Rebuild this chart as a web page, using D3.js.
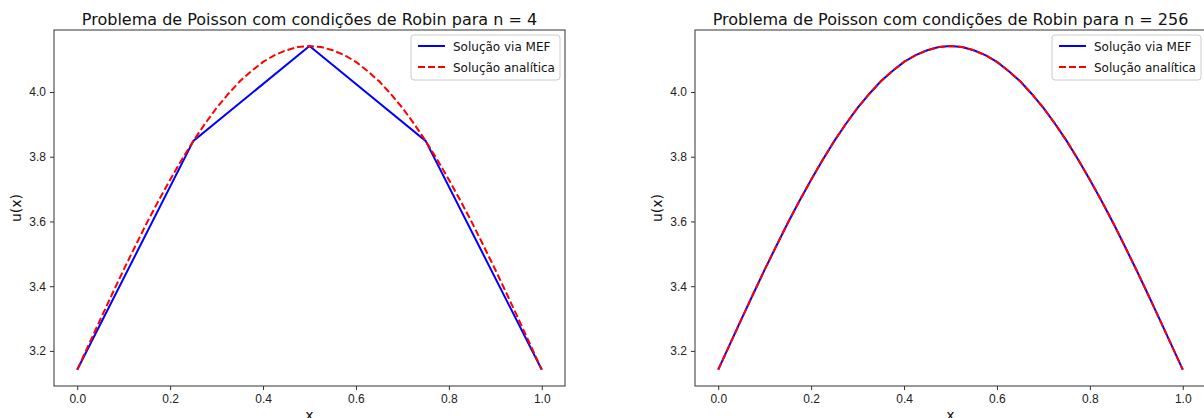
<!DOCTYPE html>
<html>
<head>
<meta charset="utf-8">
<script src="https://cdn.jsdelivr.net/npm/d3@7"></script>
<style>
  html, body { margin: 0; padding: 0; background: #fff; overflow: hidden; }
  svg { display: block; font-family: "DejaVu Sans", sans-serif; }
</style>
</head>
<body>
<svg id="fig" width="1204" height="418"></svg>
<script>
// Nodal values of the finite element solution (n = 4)
const xCoarse = [0, 0.25, 0.5, 0.75, 1];
const uCoarse = [3.142, 3.849, 4.142, 3.849, 3.142];

// Sampled values of the analytic solution / fine mesh solution
const xFine = [0, 0.025, 0.05, 0.075, 0.1, 0.125, 0.15, 0.175, 0.2, 0.225, 0.25,
  0.275, 0.3, 0.325, 0.35, 0.375, 0.4, 0.425, 0.45, 0.475, 0.5,
  0.525, 0.55, 0.575, 0.6, 0.625, 0.65, 0.675, 0.7, 0.725, 0.75,
  0.775, 0.8, 0.825, 0.85, 0.875, 0.9, 0.925, 0.95, 0.975, 1];
const uAnalytic = [3.142, 3.220, 3.298, 3.375, 3.451, 3.524, 3.596, 3.664, 3.729, 3.791, 3.849,
  3.902, 3.951, 3.994, 4.033, 4.065, 4.093, 4.114, 4.129, 4.139, 4.142,
  4.139, 4.129, 4.114, 4.093, 4.065, 4.033, 3.994, 3.951, 3.902, 3.849,
  3.791, 3.729, 3.664, 3.596, 3.524, 3.451, 3.375, 3.298, 3.220, 3.142];
const uFine = [3.142, 3.220, 3.298, 3.375, 3.451, 3.524, 3.596, 3.664, 3.729, 3.791, 3.849,
  3.902, 3.951, 3.994, 4.033, 4.065, 4.093, 4.114, 4.129, 4.139, 4.142,
  4.139, 4.129, 4.114, 4.093, 4.065, 4.033, 3.994, 3.951, 3.902, 3.849,
  3.791, 3.729, 3.664, 3.596, 3.524, 3.451, 3.375, 3.298, 3.220, 3.142];

const xTicks = [0.0, 0.2, 0.4, 0.6, 0.8, 1.0];
const yTicks = [3.2, 3.4, 3.6, 3.8, 4.0];
const seriesNames = ["Solução via MEF", "Solução analítica"];
const panelTitles = [
  "Problema de Poisson com condições de Robin para n = 4",
  "Problema de Poisson com condições de Robin para n = 256"
];

const svg = d3.select("#fig");
const panels = [
  { left: 54, top: 30, width: 511, height: 356, title: panelTitles[0],
    mef: { x: xCoarse, u: uCoarse } },
  { left: 695, top: 30, width: 511, height: 356, title: panelTitles[1],
    mef: { x: xFine, u: uFine } }
];

const BLUE = "#0000ff", RED = "#ff0000";

panels.forEach((p, i) => {
  const g = svg.append("g").attr("transform", `translate(${p.left},${p.top})`);
  const x = d3.scaleLinear().domain([-0.05, 1.05]).range([0, p.width]);
  const y = d3.scaleLinear().domain([3.0916, 4.1916]).range([p.height, 0]);

  const clipId = "clip" + i;
  g.append("clipPath").attr("id", clipId)
    .append("rect").attr("width", p.width).attr("height", p.height);

  const line = d3.line().x(d => x(d[0])).y(d => y(d[1]));
  const plot = g.append("g").attr("clip-path", `url(#${clipId})`);

  plot.append("path")
    .datum(p.mef.x.map((v, k) => [v, p.mef.u[k]]))
    .attr("d", line).attr("fill", "none")
    .attr("stroke", BLUE).attr("stroke-width", 2);

  plot.append("path")
    .datum(xFine.map((v, k) => [v, uAnalytic[k]]))
    .attr("d", line).attr("fill", "none")
    .attr("stroke", RED).attr("stroke-width", 2)
    .attr("stroke-dasharray", "7,3");

  // Axes
  const xAxis = d3.axisBottom(x).tickValues(xTicks).tickFormat(d3.format(".1f"))
    .tickSizeOuter(0).tickSizeInner(4).tickPadding(4);
  const yAxis = d3.axisLeft(y).tickValues(yTicks).tickFormat(d3.format(".1f"))
    .tickSizeOuter(0).tickSizeInner(4).tickPadding(4);

  const gx = g.append("g").attr("transform", `translate(0,${p.height})`).call(xAxis);
  const gy = g.append("g").call(yAxis);
  [gx, gy].forEach(a => {
    a.select(".domain").remove();
    a.selectAll("line").attr("stroke", "#333").attr("stroke-width", 1);
    a.selectAll("text").attr("fill", "#222").style("font-size", "12px");
  });

  // Frame
  g.append("rect").attr("width", p.width).attr("height", p.height)
    .attr("fill", "none").attr("stroke", "#333").attr("stroke-width", 1);

  // Title
  g.append("text").attr("x", p.width / 2).attr("y", -5)
    .attr("text-anchor", "middle").attr("fill", "#111")
    .style("font-size", "16px").text(p.title);

  // Axis labels
  g.append("text").attr("x", x(0.5)).attr("y", p.height + 34)
    .attr("text-anchor", "middle").attr("fill", "#111")
    .style("font-size", "14px").text("x");
  g.append("text")
    .attr("transform", `translate(-33,${p.height / 2}) rotate(-90)`)
    .attr("text-anchor", "middle").attr("fill", "#111")
    .style("font-size", "14px").text("u(x)");

  // Legend
  const lg = g.append("g").attr("transform", `translate(${p.width - 154},5)`);
  lg.append("rect").attr("width", 149).attr("height", 45).attr("rx", 3)
    .attr("fill", "#fff").attr("fill-opacity", 0.8)
    .attr("stroke", "#ccc").attr("stroke-width", 1);
  seriesNames.forEach((name, k) => {
    const yy = 11 + k * 21;
    lg.append("line").attr("x1", 7).attr("x2", 34).attr("y1", yy).attr("y2", yy)
      .attr("stroke", k === 0 ? BLUE : RED).attr("stroke-width", 2)
      .attr("stroke-dasharray", k === 0 ? null : "7,3");
    lg.append("text").attr("x", 42).attr("y", yy + 4.5)
      .attr("fill", "#111").style("font-size", "12px").text(name);
  });
});
</script>
</body>
</html>
